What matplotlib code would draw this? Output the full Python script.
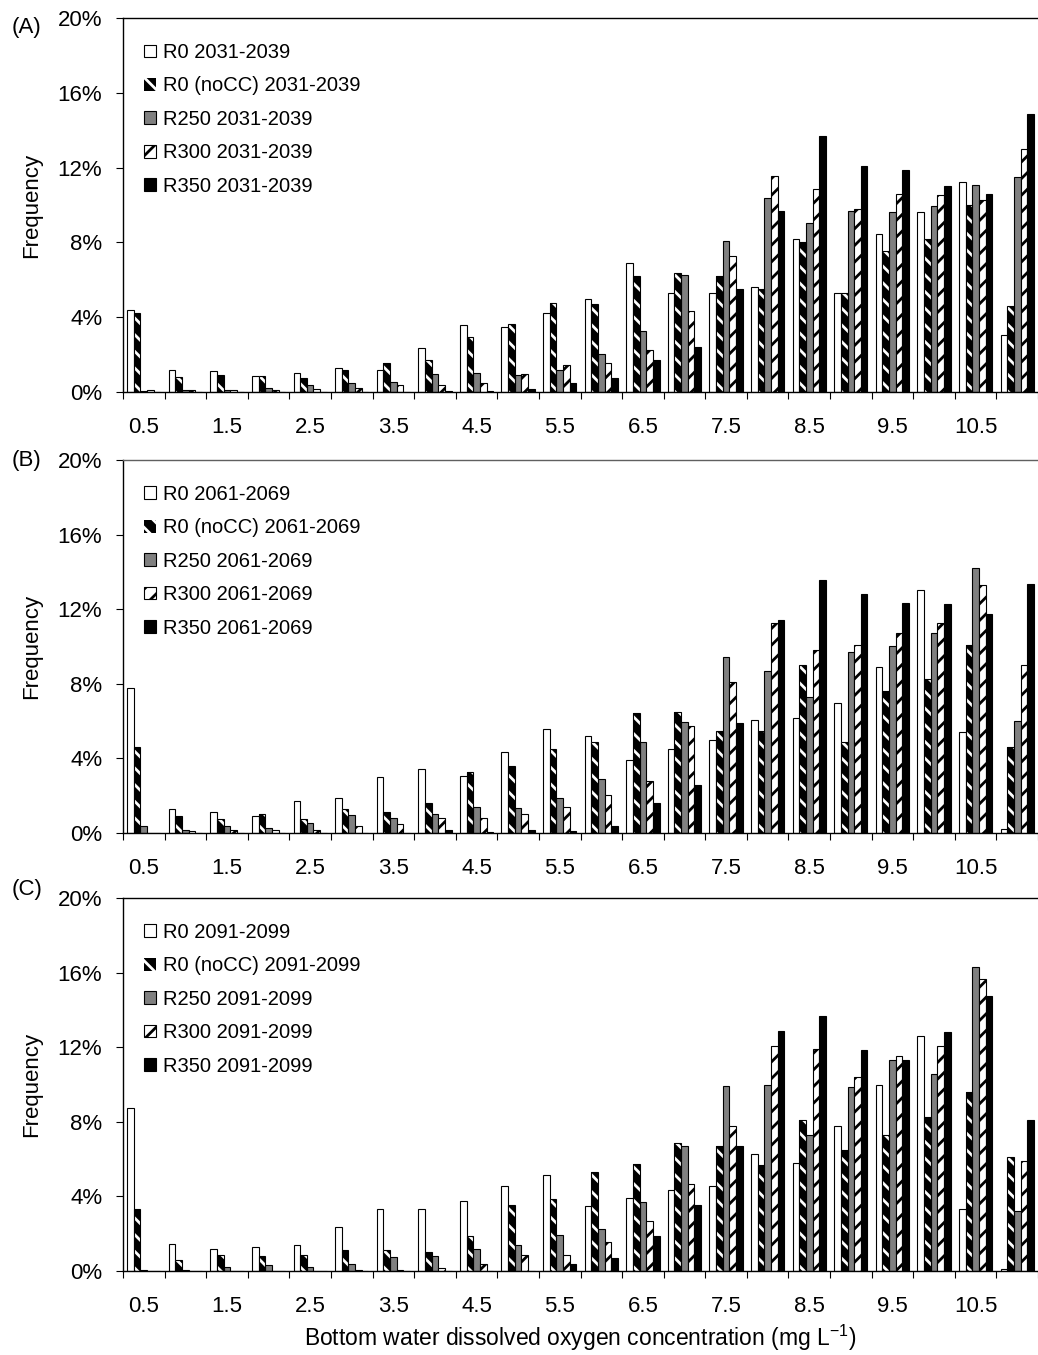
import numpy as np
import matplotlib.pyplot as plt
from matplotlib.ticker import FuncFormatter

plt.rcParams['font.family'] = ['Liberation Sans', 'DejaVu Sans']
plt.rcParams['mathtext.fontset'] = 'custom'
plt.rcParams['mathtext.rm'] = 'Liberation Sans'
plt.rcParams['hatch.linewidth'] = 2.0

# Clases de oxígeno disuelto (mg/L), 22 clases de 0.5 en 0.5
do_bins = [0.5, 1.0, 1.5, 2.0, 2.5, 3.0, 3.5, 4.0, 4.5, 5.0, 5.5,
           6.0, 6.5, 7.0, 7.5, 8.0, 8.5, 9.0, 9.5, 10.0, 10.5, 11.0]
tick_labels = ['0.5', '1.5', '2.5', '3.5', '4.5', '5.5', '6.5', '7.5', '8.5', '9.5', '10.5']

periods = ['2031-2039', '2061-2069', '2091-2099']
scenarios = ['R0', 'R0 (noCC)', 'R250', 'R300', 'R350']

# Frecuencias (%) 2031-2039
a_r0 = [4.4, 1.2, 1.1, 0.88, 1.0, 1.3, 1.15, 2.35, 3.6, 3.5, 4.25,
        4.95, 6.9, 5.3, 5.3, 5.6, 8.2, 5.3, 8.45, 9.65, 11.25, 3.05]
a_nocc = [4.2, 0.8, 0.9, 0.88, 0.75, 1.15, 1.55, 1.7, 2.95, 3.65, 4.75,
          4.7, 6.2, 6.35, 6.2, 5.5, 8.0, 5.3, 7.55, 8.2, 10.0, 4.6]
a_r250 = [0.05, 0.12, 0.12, 0.2, 0.35, 0.5, 0.55, 0.95, 1.0, 0.9, 1.15,
          2.05, 3.25, 6.25, 8.05, 10.4, 9.05, 9.7, 9.6, 9.95, 11.05, 11.5]
a_r300 = [0.12, 0.12, 0.12, 0.12, 0.15, 0.22, 0.4, 0.35, 0.48, 0.95, 1.45,
          1.55, 2.25, 4.35, 7.25, 11.55, 10.85, 9.8, 10.6, 10.55, 10.25, 13.0]
a_r350 = [0.0, 0.0, 0.0, 0.0, 0.0, 0.0, 0.0, 0.08, 0.08, 0.18, 0.5,
          0.75, 1.7, 2.4, 5.5, 9.7, 13.7, 12.1, 11.85, 11.0, 10.6, 14.85]

# Frecuencias (%) 2061-2069
b_r0 = [7.8, 1.3, 1.15, 0.9, 1.7, 1.9, 3.0, 3.45, 3.05, 4.35, 5.55,
        5.2, 3.9, 4.5, 5.0, 6.05, 6.15, 6.95, 8.9, 13.05, 5.4, 0.2]
b_nocc = [4.6, 0.9, 0.75, 1.0, 0.75, 1.3, 1.15, 1.6, 3.25, 3.6, 4.5,
          4.9, 6.45, 6.5, 5.45, 5.45, 9.0, 4.9, 7.6, 8.25, 10.1, 4.6]
b_r250 = [0.35, 0.18, 0.35, 0.27, 0.55, 0.95, 0.8, 1.0, 1.4, 1.35, 1.9,
          2.9, 4.9, 5.95, 9.45, 8.7, 7.3, 9.7, 10.05, 10.7, 14.2, 6.0]
b_r300 = [0.0, 0.1, 0.18, 0.18, 0.18, 0.35, 0.48, 0.8, 0.8, 1.0, 1.4,
          2.05, 2.8, 5.75, 8.1, 11.25, 9.8, 10.1, 10.7, 11.25, 13.3, 9.0]
b_r350 = [0.0, 0.0, 0.0, 0.0, 0.0, 0.0, 0.0, 0.15, 0.08, 0.15, 0.12,
          0.4, 1.6, 2.6, 5.9, 11.4, 13.55, 12.8, 12.35, 12.3, 11.75, 13.35]

# Frecuencias (%) 2091-2099
c_r0 = [8.75, 1.45, 1.2, 1.3, 1.4, 2.35, 3.3, 3.3, 3.75, 4.55, 5.15,
        3.5, 3.9, 4.35, 4.55, 6.3, 5.8, 7.8, 9.95, 12.6, 3.35, 0.12]
c_nocc = [3.3, 0.6, 0.88, 0.82, 0.88, 1.1, 1.15, 1.0, 1.9, 3.55, 3.85,
          5.3, 5.75, 6.85, 6.7, 5.7, 8.1, 6.5, 7.3, 8.25, 9.6, 6.1]
c_r250 = [0.07, 0.07, 0.2, 0.3, 0.2, 0.35, 0.75, 0.8, 1.2, 1.4, 1.95,
          2.25, 3.7, 6.7, 9.9, 9.95, 7.3, 9.85, 11.3, 10.55, 16.3, 3.2]
c_r300 = [0.0, 0.0, 0.0, 0.0, 0.0, 0.07, 0.07, 0.15, 0.35, 0.88, 0.88,
          1.55, 2.7, 4.65, 7.8, 12.05, 11.9, 10.4, 11.55, 12.05, 15.65, 5.9]
c_r350 = [0.0, 0.0, 0.0, 0.0, 0.0, 0.0, 0.0, 0.0, 0.0, 0.0, 0.35,
          0.7, 1.9, 3.55, 6.7, 12.85, 13.65, 11.85, 11.3, 12.8, 14.75, 8.1]

panels = [
    ('(A)', periods[0], [a_r0, a_nocc, a_r250, a_r300, a_r350]),
    ('(B)', periods[1], [b_r0, b_nocc, b_r250, b_r300, b_r350]),
    ('(C)', periods[2], [c_r0, c_nocc, c_r250, c_r300, c_r350]),
]

# estilo de cada escenario: relleno, color de trama, trama
estilos = [
    ('white', 'black', None),
    ('black', 'white', '\\\\'),
    ('#808080', 'black', None),
    ('white', 'black', '//'),
    ('black', 'black', None),
]

fig = plt.figure(figsize=(10.38, 13.55), dpi=100)
# posiciones de los paneles en pixeles (arriba, abajo)
filas = [(18, 392), (460, 833), (898, 1271)]
W, H = 1038, 1355
x0 = 123
etiquetas_y = [27, 460, 890]

x = np.arange(len(do_bins))
ancho = 0.16

for (letra, periodo, series), (top, bot), ly in zip(panels, filas, etiquetas_y):
    ax = fig.add_axes([x0 / W, 1 - bot / H, (W - x0) / W, (bot - top) / H])
    handles = []
    for k, (vals, (fc, hc, hatch)) in enumerate(zip(series, estilos)):
        pos = x + (k - 2) * ancho
        b = ax.bar(pos, vals, ancho, color=fc, edgecolor=hc, hatch=hatch,
                   linewidth=0 if hatch == '\\\\' else 0.8,
                   label=f'{scenarios[k]} {periodo}', zorder=2)
        if hatch == '\\\\':
            # contorno negro encima de la trama blanca
            ax.bar(pos, vals, ancho, fill=False, edgecolor='black', linewidth=0.8, zorder=3)
        handles.append(b)

    ax.set_xlim(-0.5, len(do_bins) - 0.5)
    ax.set_ylim(0, 20)
    ax.set_yticks(range(0, 21, 4))
    ax.yaxis.set_major_formatter(FuncFormatter(lambda v, p: f'{int(v)}%'))
    ax.tick_params(axis='y', length=5, width=0.8, pad=10, labelsize=16)

    # marcas entre clases, etiquetas cada dos clases
    ax.set_xticks(np.arange(-0.5, len(do_bins), 1))
    ax.set_xticklabels([])
    ax.set_xticks(np.arange(0, len(do_bins), 2), minor=True)
    ax.set_xticklabels(tick_labels, minor=True)
    ax.tick_params(axis='x', which='major', length=5, width=0.8)
    ax.tick_params(axis='x', which='minor', length=0, pad=18, labelsize=16)

    ax.spines['right'].set_visible(False)
    for s in ['left', 'bottom', 'top']:
        ax.spines[s].set_linewidth(1.0)
    if letra == '(B)':
        ax.spines['top'].set_color('#606060')

    ax.set_ylabel('Frequency', fontsize=16)
    ax.yaxis.set_label_coords((42 - x0) / (W - x0), 0.5)

    ax.legend(handles=handles, loc='upper left', bbox_to_anchor=(0.023, 0.933),
              frameon=False, fontsize=14.5, borderpad=0, borderaxespad=0,
              handlelength=0.6, handleheight=0.6, handletextpad=0.35,
              labelspacing=0.715)

    fig.text(12 / W, 1 - ly / H, letra, fontsize=16, ha='left', va='center')

fig.text(580 / W, 1 - 1338 / H, 'Bottom water dissolved oxygen concentration (mg L$^{-1}$)',
         fontsize=16.5, ha='center', va='center')

fig.savefig('out.png', dpi=100)
